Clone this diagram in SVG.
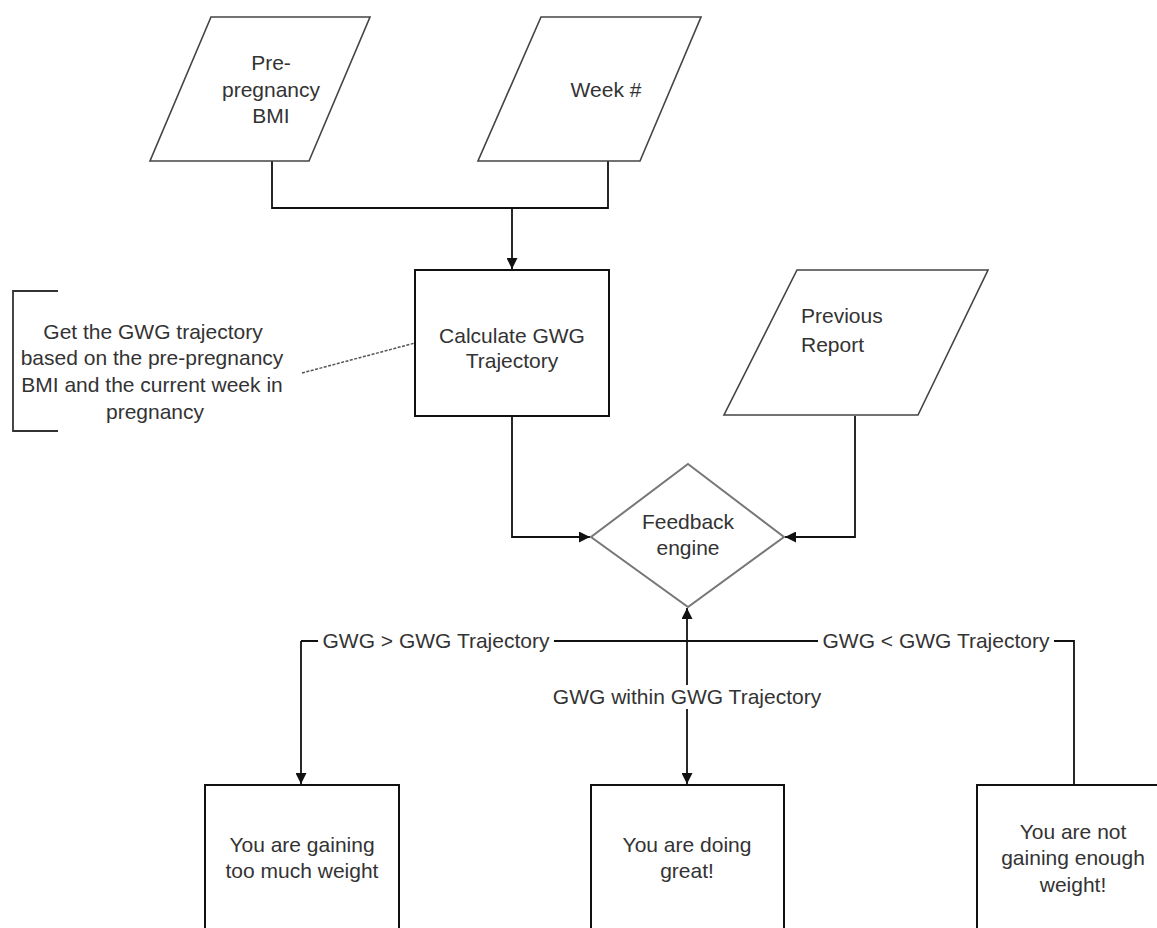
<svg xmlns="http://www.w3.org/2000/svg" width="1157" height="928" viewBox="0 0 1157 928">
<defs>
<style>
.t{font-family:"Liberation Sans",Arial,sans-serif;font-size:21px;fill:#333;text-anchor:middle}
.tl{font-family:"Liberation Sans",Arial,sans-serif;font-size:21px;fill:#333;text-anchor:start}
.box{fill:#fff;stroke:#111;stroke-width:2}
.para{fill:#fff;stroke:#444;stroke-width:1.6}
.dia{fill:#fff;stroke:#777;stroke-width:2}
.conn{fill:none;stroke:#111;stroke-width:1.8}
.lbg{fill:#fff}
</style>
<marker id="arr" viewBox="0 0 10 10" refX="10" refY="5" markerWidth="11" markerHeight="11" markerUnits="userSpaceOnUse" orient="auto">
<path d="M0,0 L10,5 L0,10 z" fill="#111"/>
</marker>
</defs>
<rect width="1157" height="928" fill="#fff"/>

<g id="connectors">
<path class="conn" d="M272,161 V208 H608 V161"/>
<path class="conn" d="M512,208 V269" marker-end="url(#arr)"/>
<path class="conn" d="M512,416 V537 H590" marker-end="url(#arr)"/>
<path class="conn" d="M855,416 V537 H785" marker-end="url(#arr)"/>
<path class="conn" d="M301,641 H1074 V785"/>
<path class="conn" d="M301,641 V784" marker-end="url(#arr)"/>
<path class="conn" d="M687,700 V608" marker-end="url(#arr)"/>
<path class="conn" d="M687,700 V784" marker-end="url(#arr)"/>
<path d="M302,373 L415,343" fill="none" stroke="#555" stroke-width="1.5" stroke-dasharray="3,1.5"/>
<g id="label-over">
<rect class="lbg" x="318" y="630" width="236" height="22"/>
<text class="t" x="436" y="648">GWG &gt; GWG Trajectory</text>
</g>
<g id="label-under">
<rect class="lbg" x="818" y="630" width="236" height="22"/>
<text class="t" x="936" y="648">GWG &lt; GWG Trajectory</text>
</g>
<g id="label-within">
<rect class="lbg" x="547" y="685" width="281" height="24"/>
<text class="t" x="687" y="704">GWG within GWG Trajectory</text>
</g>
</g>

<g id="node-bmi">
<polygon class="para" points="211,17 370,17 309,161 150,161"/>
<text class="t" x="271" y="70">Pre-</text>
<text class="t" x="271" y="97">pregnancy</text>
<text class="t" x="271" y="123">BMI</text>
</g>

<g id="node-week">
<polygon class="para" points="541,17 701,17 640,161 478,161"/>
<text class="t" x="606" y="97">Week #</text>
</g>

<g id="node-calc">
<rect class="box" x="415" y="270" width="194" height="146"/>
<text class="t" x="512" y="343">Calculate GWG</text>
<text class="t" x="512" y="368">Trajectory</text>
</g>

<g id="node-note">
<path d="M58,291 H13 V431 H58" fill="none" stroke="#333" stroke-width="1.8"/>
<text class="t" x="153" y="339">Get the GWG trajectory</text>
<text class="t" x="152" y="365">based on the pre-pregnancy</text>
<text class="t" x="152" y="392">BMI and the current week in</text>
<text class="t" x="155" y="419">pregnancy</text>
</g>

<g id="node-prev">
<polygon class="para" points="797,270 988,270 918,415 724,415"/>
<text class="tl" x="801" y="323">Previous</text>
<text class="tl" x="801" y="352">Report</text>
</g>

<g id="node-feedback">
<polygon class="dia" points="688,464 784,537 688,607 591,537"/>
<text class="t" x="688" y="529">Feedback</text>
<text class="t" x="688" y="555">engine</text>
</g>

<g id="node-too-much">
<rect class="box" x="205" y="785" width="194" height="160"/>
<text class="t" x="302" y="852">You are gaining</text>
<text class="t" x="302" y="878">too much weight</text>
</g>

<g id="node-great">
<rect class="box" x="591" y="785" width="193" height="160"/>
<text class="t" x="687" y="852">You are doing</text>
<text class="t" x="687" y="878">great!</text>
</g>

<g id="node-not-enough">
<rect class="box" x="977" y="785" width="194" height="160"/>
<text class="t" x="1073" y="839">You are not</text>
<text class="t" x="1073" y="865">gaining enough</text>
<text class="t" x="1073" y="892">weight!</text>
</g>
</svg>
